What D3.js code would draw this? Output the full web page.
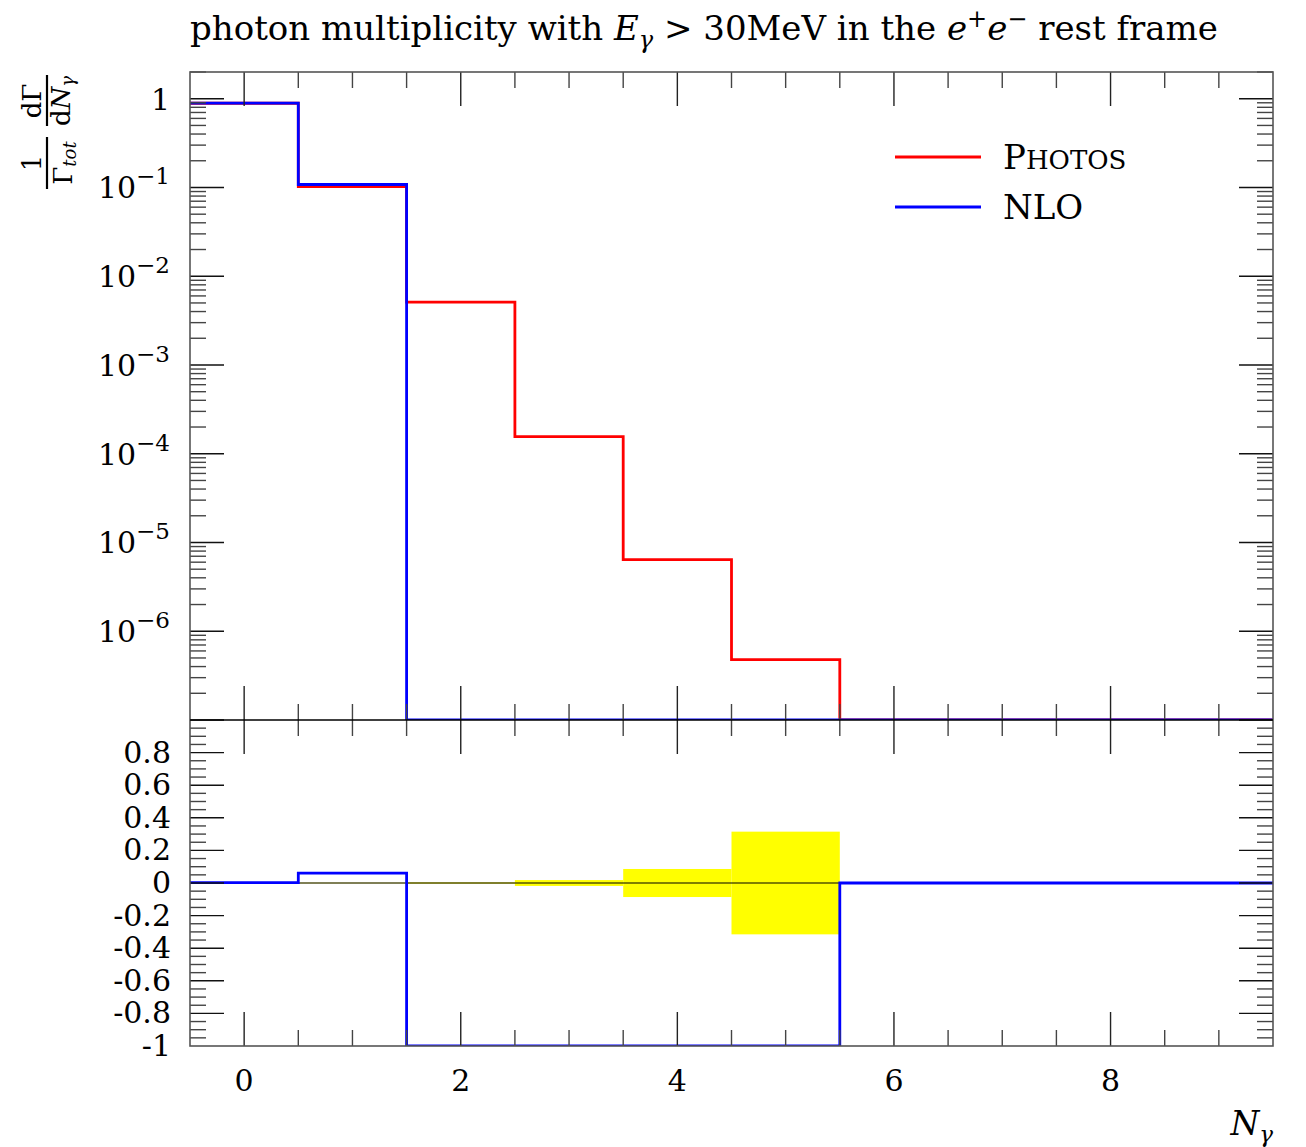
<!DOCTYPE html>
<html>
<head>
<meta charset="utf-8">
<script src="https://cdn.jsdelivr.net/npm/d3@7"></script>
<style>
  body { margin: 0; background: #fff; }
  text { font-family: "DejaVu Serif", "Liberation Serif", serif; fill: #000; }
</style>
</head>
<body>
<div id="chart"></div>
<script>
// bin edges for N_gamma = 0..9
var edges = [-0.5, 0.5, 1.5, 2.5, 3.5, 4.5, 5.5, 6.5, 7.5, 8.5, 9.5];
var photos = [0.889, 0.102, 5.1e-3, 1.56e-4, 6.4e-6, 4.8e-7, 0, 0, 0, 0];
var nlo = [0.891, 0.108, 0, 0, 0, 0, 0, 0, 0, 0];
// ratio panel: (NLO - PHOTOS) / PHOTOS and PHOTOS relative uncertainty
var ratioNlo = [0.002, 0.06, -1, -1, -1, -1, 0, 0, 0, 0];
var ratioErr = [0.001, 0.002, 0.004, 0.018, 0.086, 0.315, 0, 0, 0, 0];
var xMajor = [0, 2, 4, 6, 8];
var yDecades = [0, -1, -2, -3, -4, -5, -6];
var ratioLabels = ["0.8", "0.6", "0.4", "0.2", "0", "-0.2", "-0.4", "-0.6", "-0.8", "-1"];

var W = 1306, H = 1147,
    pLeft = 190, pRight = 1273,
    pTop = 72, pMid = 720, pBottom = 1046,
    majLen = 34, minLen = 16,
    frameCol = "#555";

var svg = d3.select("#chart").append("svg")
    .attr("width", W).attr("height", H);

var x = d3.scaleLinear().domain([-0.5, 9.5]).range([pLeft, pRight]);
var y = d3.scaleLog().domain([1e-7, 2]).range([pMid, pTop]);
var yr = d3.scaleLinear().domain([-1, 1]).range([pBottom, pMid]);

var defs = svg.append("defs");
defs.append("clipPath").attr("id", "clipMain")
  .append("rect").attr("x", pLeft).attr("y", pTop).attr("width", pRight - pLeft).attr("height", pMid - pTop);
defs.append("clipPath").attr("id", "clipRatio")
  .append("rect").attr("x", pLeft).attr("y", pMid).attr("width", pRight - pLeft).attr("height", pBottom - pMid);

function stepPoints(vals) {
  var pts = vals.map(function (v, i) { return [edges[i], v]; });
  pts.push([edges[edges.length - 1], vals[vals.length - 1]]);
  return pts;
}

// ---------- main panel ----------
var lineMain = d3.line()
    .x(function (d) { return x(d[0]); })
    .y(function (d) { return y(Math.max(d[1], 1e-7)); })
    .curve(d3.curveStepAfter);

var gMain = svg.append("g").attr("clip-path", "url(#clipMain)");
gMain.append("path").datum(stepPoints(photos))
    .attr("d", lineMain).attr("fill", "none")
    .attr("stroke", "#ff0000").attr("stroke-width", 2.8);
gMain.append("path").datum(stepPoints(nlo))
    .attr("d", lineMain).attr("fill", "none")
    .attr("stroke", "#0000ff").attr("stroke-width", 2.8);

// ---------- ratio panel ----------
var gRatio = svg.append("g").attr("clip-path", "url(#clipRatio)");
gRatio.selectAll(".band")
  .data(ratioErr.map(function (e, i) { return {i: i, e: e}; }).filter(function (d) { return d.e > 0; }))
  .enter().append("rect")
    .attr("class", "band")
    .attr("x", function (d) { return x(edges[d.i]); })
    .attr("width", function (d) { return x(edges[d.i + 1]) - x(edges[d.i]); })
    .attr("y", function (d) { return yr(d.e); })
    .attr("height", function (d) { return yr(-d.e) - yr(d.e); })
    .attr("fill", "#ffff00");

gRatio.append("line")
    .attr("x1", pLeft).attr("x2", pRight).attr("y1", yr(0)).attr("y2", yr(0))
    .attr("stroke", "#000").attr("stroke-width", 1.2);

var lineRatio = d3.line()
    .x(function (d) { return x(d[0]); })
    .y(function (d) { return yr(d[1]); })
    .curve(d3.curveStepAfter);
gRatio.append("path").datum(stepPoints(ratioNlo))
    .attr("d", lineRatio).attr("fill", "none")
    .attr("stroke", "#0000ff").attr("stroke-width", 2.8);

// ---------- ticks ----------
var ticks = svg.append("g").attr("stroke-width", 1.4);

function hTicks(yTop, yBot) {
  d3.range(0, 9.01, 0.5).forEach(function (v) {
    var isMaj = xMajor.indexOf(v) >= 0;
    var L = isMaj ? majLen : minLen;
    var c = isMaj ? "#222" : "#444";
    ticks.append("line").attr("x1", x(v)).attr("x2", x(v)).attr("y1", yTop).attr("y2", yTop + L).attr("stroke", c);
    ticks.append("line").attr("x1", x(v)).attr("x2", x(v)).attr("y1", yBot).attr("y2", yBot - L).attr("stroke", c);
  });
}
hTicks(pTop, pMid);
hTicks(pMid, pBottom);

// log ticks
for (var k = 0; k >= -7; k--) {
  for (var m = 1; m <= 9; m++) {
    var v = m * Math.pow(10, k);
    if (v < 1e-7 || v > 2) continue;
    var L = m === 1 ? majLen : minLen;
    var c = m === 1 ? "#111" : "#444";
    ticks.append("line").attr("x1", pLeft).attr("x2", pLeft + L).attr("y1", y(v)).attr("y2", y(v)).attr("stroke", c);
    ticks.append("line").attr("x1", pRight).attr("x2", pRight - L).attr("y1", y(v)).attr("y2", y(v)).attr("stroke", c);
  }
}

// ratio ticks
d3.range(-19, 20).forEach(function (n) {
  var v = n * 0.05;
  var isMaj = n % 4 === 0;
  var L = isMaj ? majLen : minLen;
  var c = isMaj ? "#111" : "#444";
  ticks.append("line").attr("x1", pLeft).attr("x2", pLeft + L).attr("y1", yr(v)).attr("y2", yr(v)).attr("stroke", c);
  ticks.append("line").attr("x1", pRight).attr("x2", pRight - L).attr("y1", yr(v)).attr("y2", yr(v)).attr("stroke", c);
});

// ---------- frames ----------
svg.append("rect").attr("x", pLeft).attr("y", pTop).attr("width", pRight - pLeft).attr("height", pBottom - pTop)
    .attr("fill", "none").attr("stroke", frameCol).attr("stroke-width", 1.6);
svg.append("line").attr("x1", pLeft).attr("x2", pRight).attr("y1", pMid).attr("y2", pMid)
    .attr("stroke", "#000").attr("stroke-width", 1.6);

// ---------- tick labels ----------
var fs = 30;
yDecades.forEach(function (d) {
  var t = svg.append("text").attr("text-anchor", "end")
      .attr("x", 170).attr("y", y(Math.pow(10, d)) + 11).style("font-size", fs + "px");
  if (d === 0) { t.text("1"); return; }
  t.append("tspan").text("10");
  t.append("tspan").attr("dy", -14).style("font-size", "23px").text("\u2212" + (-d));
});

ratioLabels.forEach(function (s) {
  svg.append("text").attr("text-anchor", "end")
    .attr("x", 171).attr("y", yr(+s) + 10).style("font-size", fs + "px")
    .text(s);
});

xMajor.forEach(function (v) {
  svg.append("text").attr("text-anchor", "middle")
    .attr("x", x(v)).attr("y", 1091).style("font-size", fs + "px").text(v);
});

// axis label N_gamma
var xl = svg.append("text").attr("text-anchor", "end").attr("x", 1273).attr("y", 1135)
    .style("font-size", "33px");
xl.append("tspan").style("font-style", "italic").text("N");
xl.append("tspan").style("font-style", "italic").attr("dy", 7).style("font-size", "23px").text("\u03b3");

// y label: 1/Γtot dΓ/dNγ (rotated)
var yl = svg.append("g").attr("transform", "translate(47,131) rotate(-90)");
yl.append("line").attr("x1", -58).attr("x2", -6).attr("y1", 0).attr("y2", 0)
    .attr("stroke", "#000").attr("stroke-width", 2.2);
yl.append("text").attr("x", -32).attr("y", -6).attr("text-anchor", "middle").style("font-size", "26px").text("1");
var d1 = yl.append("text").attr("x", -32).attr("y", 25).attr("text-anchor", "middle").style("font-size", "26px");
d1.append("tspan").text("\u0393");
d1.append("tspan").attr("dy", 4).style("font-size", "18px").style("font-style", "italic").text("tot");
yl.append("line").attr("x1", 5).attr("x2", 56).attr("y1", 0).attr("y2", 0)
    .attr("stroke", "#000").attr("stroke-width", 2.2);
yl.append("text").attr("x", 30).attr("y", -6).attr("text-anchor", "middle").style("font-size", "26px").text("d\u0393");
var d2 = yl.append("text").attr("x", 30).attr("y", 23).attr("text-anchor", "middle").style("font-size", "26px");
d2.append("tspan").text("d");
d2.append("tspan").style("font-style", "italic").text("N");
d2.append("tspan").attr("dy", 4).style("font-size", "18px").style("font-style", "italic").text("\u03b3");

// ---------- title ----------
var title = svg.append("text").attr("x", 190).attr("y", 40).style("font-size", "34px");
title.append("tspan").text("photon multiplicity with ");
title.append("tspan").style("font-style", "italic").text("E");
title.append("tspan").attr("dy", 8).style("font-size", "24px").style("font-style", "italic").text("\u03b3");
title.append("tspan").attr("dy", -8).text(" > 30MeV in the ");
title.append("tspan").style("font-style", "italic").text("e");
title.append("tspan").attr("dy", -13).style("font-size", "24px").text("+");
title.append("tspan").attr("dy", 13).style("font-style", "italic").text("e");
title.append("tspan").attr("dy", -13).style("font-size", "24px").text("\u2212");
title.append("tspan").attr("dy", 13).text(" rest frame");

// ---------- legend ----------
var legend = [{name: "Photos", col: "#ff0000", y: 157}, {name: "NLO", col: "#0000ff", y: 207}];
legend.forEach(function (l) {
  svg.append("line").attr("x1", 895).attr("x2", 981).attr("y1", l.y).attr("y2", l.y)
    .attr("stroke", l.col).attr("stroke-width", 2.8);
  var t = svg.append("text").attr("x", 1003).attr("y", l.y + 12).style("font-size", "34px");
  if (l.name === "Photos") {
    t.append("tspan").text("P");
    t.append("tspan").style("font-size", "26px").text("HOTOS");
  } else {
    t.text(l.name);
  }
});
</script>
</body>
</html>
